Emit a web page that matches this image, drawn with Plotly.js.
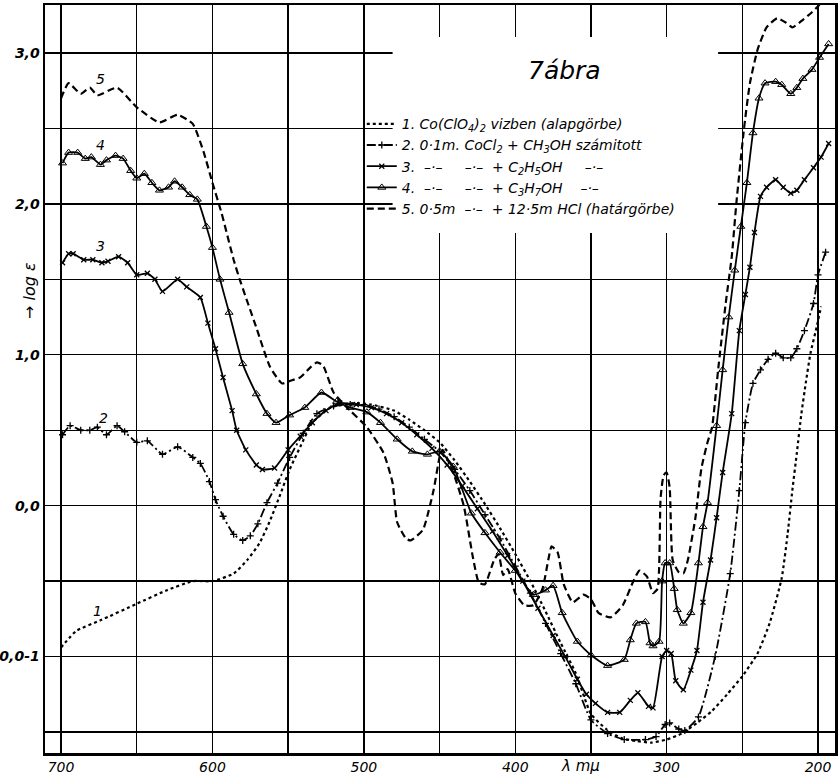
<!DOCTYPE html>
<html>
<head>
<meta charset="utf-8">
<script src="https://cdn.plot.ly/plotly-3.0.1.min.js"></script>
<style>html,body{margin:0;padding:0;background:#fff;}#chart{width:838px;height:779px;}</style>
</head>
<body>
<div id="chart"></div>
<script>
// ---- data (wavelength in mμ, log ε) ----
const lam1 = [700,690,674,650,630,613,600,586,577,569,562,555,549,542,534,522,507,495,480,470,460,450,440,430,420,410,400,390,380,370,360,350,340,330,320,310,300,290,280,270,260,250,240,232,224,220,217,214,211,208,205,201,198];
const logE1 = [-0.94,-0.83,-0.76,-0.65,-0.56,-0.50,-0.50,-0.45,-0.36,-0.25,-0.10,0.08,0.24,0.39,0.55,0.65,0.68,0.67,0.63,0.57,0.50,0.42,0.30,0.16,0.01,-0.15,-0.32,-0.50,-0.70,-0.91,-1.11,-1.38,-1.48,-1.54,-1.56,-1.57,-1.55,-1.51,-1.44,-1.36,-1.25,-1.13,-0.98,-0.78,-0.48,-0.18,0.10,0.35,0.61,0.82,1.01,1.18,1.32];

const lam2 = [699,694,687,681,676,670,663,658,650,643,633,623,613,608,602,598,593,586,580,575,570,564,557,549,540,531,520,509,500,490,480,470,460,450,440,430,420,410,400,390,380,370,360,350,339,328,314,307,301,298,292,288,279,268,258,252,248,243,238,233,228,223,218,214,209,203,200,195];
const logE2 = [0.47,0.53,0.50,0.50,0.52,0.47,0.53,0.49,0.42,0.43,0.34,0.39,0.32,0.28,0.16,0.04,-0.07,-0.19,-0.23,-0.20,-0.12,0.02,0.15,0.32,0.48,0.61,0.66,0.67,0.67,0.64,0.59,0.52,0.44,0.36,0.24,0.10,-0.06,-0.22,-0.40,-0.58,-0.78,-0.98,-1.18,-1.42,-1.51,-1.55,-1.55,-1.53,-1.45,-1.44,-1.48,-1.49,-1.40,-1.00,-0.45,0.10,0.55,0.81,0.90,0.97,1.01,0.98,0.98,1.04,1.16,1.34,1.53,1.68];

const lam3 = [699,695,692,685,679,673,669,662,656,650,643,638,633,623,617,608,603,598,593,587,584,578,571,567,559,550,542,534,525,516,505,495,485,475,465,455,445,435,425,415,405,395,385,375,367,359,353,347,339,331,324,319,312,309,303,300,297,294,289,284,280,276,271,267,263,257,252,248,245,242,238,234,228,223,218,214,209,203,198,193];
const logE3 = [1.61,1.67,1.67,1.63,1.63,1.61,1.62,1.65,1.61,1.53,1.54,1.50,1.42,1.50,1.45,1.38,1.21,1.04,0.85,0.63,0.50,0.37,0.27,0.24,0.25,0.37,0.46,0.55,0.63,0.68,0.67,0.65,0.61,0.55,0.47,0.38,0.27,0.13,-0.02,-0.17,-0.33,-0.50,-0.68,-0.86,-1.00,-1.15,-1.25,-1.31,-1.37,-1.37,-1.29,-1.24,-1.33,-1.34,-1.00,-0.96,-0.98,-1.16,-1.22,-1.09,-0.96,-0.64,-0.36,-0.08,0.22,0.61,1.16,1.40,1.58,1.81,2.05,2.11,2.16,2.11,2.07,2.09,2.16,2.24,2.31,2.40];

const lam4 = [699,695,689,684,680,674,670,664,659,654,650,645,640,635,629,625,620,615,610,604,600,595,589,580,571,564,558,549,539,528,518,509,498,489,478,468,458,450,441,429,420,410,400,388,380,375,369,359,350,339,328,324,320,314,311,309,305,303,301,298,295,293,289,284,279,276,273,267,263,259,255,251,247,243,239,235,228,224,218,214,210,204,199,193];
const logE4 = [2.27,2.34,2.34,2.30,2.31,2.26,2.29,2.32,2.30,2.22,2.17,2.20,2.14,2.09,2.11,2.15,2.11,2.06,2.03,1.85,1.71,1.50,1.28,0.94,0.74,0.61,0.55,0.60,0.65,0.75,0.69,0.65,0.62,0.55,0.44,0.36,0.34,0.36,0.26,-0.05,-0.18,-0.31,-0.43,-0.59,-0.56,-0.53,-0.71,-0.90,-0.99,-1.06,-1.02,-0.89,-0.78,-0.77,-0.91,-0.93,-0.90,-0.50,-0.38,-0.38,-0.55,-0.69,-0.78,-0.71,-0.38,-0.14,0.02,0.53,0.90,1.25,1.56,1.85,2.14,2.47,2.70,2.80,2.81,2.79,2.73,2.77,2.83,2.89,2.97,3.06];

const lam5 = [700,695,687,681,676,663,650,635,623,613,606,600,594,586,582,571,562,554,548,542,535,531,527,520,514,509,498,487,481,478,472,469,461,454,450,448,441,434,428,424,420,414,411,408,405,400,394,388,382,378,376,372,368,362,355,350,345,337,329,322,318,313,309,306,304,302,300,298,296,292,289,286,281,277,273,270,266,261,257,254,249,245,240,234,227,221,217,210,204,199];
const logE5 = [2.70,2.80,2.73,2.77,2.72,2.77,2.64,2.54,2.59,2.53,2.35,2.14,1.94,1.63,1.50,1.18,0.92,0.81,0.83,0.85,0.92,0.95,0.93,0.75,0.68,0.63,0.52,0.35,0.15,-0.11,-0.22,-0.23,-0.16,0.10,0.32,0.37,0.22,0.00,-0.34,-0.51,-0.52,-0.36,-0.32,-0.46,-0.42,-0.58,-0.66,-0.66,-0.55,-0.35,-0.27,-0.31,-0.52,-0.64,-0.59,-0.62,-0.71,-0.74,-0.66,-0.50,-0.43,-0.47,-0.58,-0.55,0.05,0.20,0.22,0.12,-0.36,-0.44,-0.45,-0.36,-0.08,0.25,0.42,0.52,0.90,1.34,1.65,2.00,2.49,2.80,3.02,3.17,3.23,3.20,3.17,3.22,3.27,3.32];

const seriesNames = [
  '1.\u00a0Co(ClO<sub>4</sub>)<sub>2</sub> vizben (alapgörbe)',
  '2.\u00a00·1m.\u00a0CoCl<sub>2</sub> + CH<sub>3</sub>OH számitott',
  '3.\u00a0\u00a0–·–\u00a0\u00a0\u00a0\u00a0\u00a0–·–\u00a0\u00a0+ C<sub>2</sub>H<sub>5</sub>OH\u00a0\u00a0\u00a0\u00a0\u00a0–·–',
  '4.\u00a0\u00a0–·–\u00a0\u00a0\u00a0\u00a0\u00a0–·–\u00a0\u00a0+ C<sub>3</sub>H<sub>7</sub>OH\u00a0\u00a0\u00a0\u00a0–·–',
  '5.\u00a00·5m\u00a0\u00a0–·–\u00a0\u00a0+ 12·5m HCl (határgörbe)'
];
const curveLabels = ['1','2','3','4','5'];
const labelLam = [676, 672, 674, 674, 674];
const labelLogE = [-0.70, 0.58, 1.72, 2.39, 2.83];

const xTickVals = [700,600,500,400,300,200];
const xTickText = ['700','600','500','400','300','200'];
const yTickVals = [-1,0,1,2,3];
const yTickText = ['0,0-1','0,0','1,0','2,0','3,0'];

// ---- styling ----
const FONT = 'DejaVu Sans, Liberation Sans, sans-serif';
const lw = 1.8;
const traces = [
  {x: lam1, y: logE1, name: seriesNames[0], mode: 'lines',
   line: {color: '#000', width: 2.2, dash: 'dot', shape: 'spline', smoothing: 0.5}},
  {x: lam2, y: logE2, name: seriesNames[1], mode: 'lines+markers',
   line: {color: '#000', width: lw, dash: '9px,3px,2px,3px', shape: 'spline', smoothing: 0.5},
   marker: {symbol: 'cross-thin', size: 5, color: '#000', line: {color: '#000', width: 1.3}}},
  {x: lam3, y: logE3, name: seriesNames[2], mode: 'lines+markers',
   line: {color: '#000', width: lw, dash: 'solid', shape: 'spline', smoothing: 0.5},
   marker: {symbol: 'x-thin', size: 5, color: '#000', line: {color: '#000', width: 1.3}}},
  {x: lam4, y: logE4, name: seriesNames[3], mode: 'lines+markers',
   line: {color: '#000', width: lw, dash: 'solid', shape: 'spline', smoothing: 0.5},
   marker: {symbol: 'triangle-up-open', size: 7, color: '#000', line: {color: '#000', width: 1}}},
  {x: lam5, y: logE5, name: seriesNames[4], mode: 'lines',
   line: {color: '#000', width: 2.2, dash: '7px,4px', shape: 'spline', smoothing: 0.5}}
];

const annotations = curveLabels.map((t, i) => ({
  x: labelLam[i], y: labelLogE[i], xref: 'x', yref: 'y', text: t, showarrow: false,
  xanchor: 'center', yanchor: 'middle',
  font: {family: FONT, size: 14, style: 'italic', color: '#000'}
}));
annotations.push({x: 0.658, y: 0.912, xref: 'paper', yref: 'paper', xanchor: 'center', yanchor: 'middle',
  text: '7ábra', showarrow: false,
  font: {family: FONT, size: 25, style: 'italic', color: '#000'}});
annotations.push({x: 0.678, y: -0.017, xref: 'paper', yref: 'paper', xanchor: 'center', yanchor: 'middle',
  text: 'λ mμ', showarrow: false,
  font: {family: FONT, size: 15, style: 'italic', color: '#000'}});
annotations.push({x: -0.019, y: 0.619, xref: 'paper', yref: 'paper', xanchor: 'center', yanchor: 'middle',
  text: '→ log ε', textangle: -90, showarrow: false,
  font: {family: FONT, size: 16, style: 'italic', color: '#000'}});

const gridStyle = {showgrid: true, gridcolor: '#000', gridwidth: 1.3};
const layout = {
  width: 838, height: 779,
  margin: {l: 45, r: 3, t: 5, b: 26},
  paper_bgcolor: '#fff', plot_bgcolor: '#fff',
  showlegend: true,
  legend: {x: 0.401, y: 0.862, xanchor: 'left', yanchor: 'top', bgcolor: 'rgba(0,0,0,0)',
           font: {family: FONT, size: 14, style: 'italic', color: '#000'}, itemwidth: 30, tracegroupgap: 0},
  xaxis: Object.assign({range: [710.6, 188.8], tickmode: 'array', tickvals: xTickVals, ticktext: xTickText,
          zeroline: false, showline: true, linecolor: '#000', linewidth: 2.5, mirror: true, ticks: '',
          minor: {tickmode: 'linear', tick0: 0, dtick: 50, showgrid: true, gridcolor: '#000', gridwidth: 1.3, ticks: ''},
          tickfont: {family: FONT, size: 14, style: 'italic', color: '#000'}}, gridStyle),
  yaxis: Object.assign({range: [-1.639, 3.318], tickmode: 'array', tickvals: yTickVals, ticktext: yTickText,
          zeroline: false, showline: true, linecolor: '#000', linewidth: 2.5, mirror: true, ticks: '',
          minor: {tickmode: 'linear', tick0: 0, dtick: 0.5, showgrid: true, gridcolor: '#000', gridwidth: 1.3, ticks: ''},
          tickfont: {family: FONT, size: 14, style: 'italic', weight: 'bold', color: '#000'}}, gridStyle),
  shapes: [{type: 'rect', xref: 'x', yref: 'y', x0: 481, x1: 266, y0: 1.807, y1: 3.106,
            fillcolor: '#fff', line: {width: 0}, layer: 'between'}],
  annotations: annotations
};

Plotly.newPlot('chart', traces, layout, {staticPlot: true, displayModeBar: false});
</script>
</body>
</html>
